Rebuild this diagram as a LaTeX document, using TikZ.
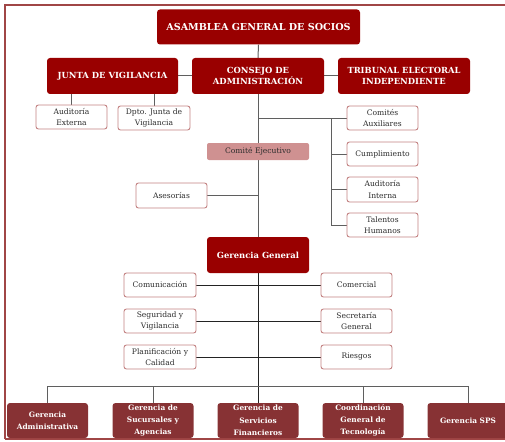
\documentclass[tikz,border=0pt]{standalone}
\usepackage{fontspec}
\setmainfont{DejaVu Serif}
\usetikzlibrary{backgrounds}
\begin{document}
\begin{tikzpicture}[x=1pt,y=-1pt,
  top/.style={draw=none,fill=topred,rounded corners=3pt,text=white,font=\bfseries\fontsize{8.4}{11}\selectfont,align=center,inner sep=0pt,minimum width=132pt,minimum height=36pt},
  sub/.style={draw=subline,line width=0.9pt,fill=white,rounded corners=2.5pt,text=txt,font=\fontsize{7.6}{11.5}\selectfont,align=center,inner sep=0pt,minimum width=71pt,minimum height=24pt},
  bot/.style={draw=none,fill=botred,rounded corners=3pt,text=white,font=\bfseries\fontsize{7.4}{12.3}\selectfont,align=center,inner sep=0pt,minimum width=81pt,minimum height=35pt},
  ln/.style={draw=lngray,line width=1pt},
  lnd/.style={draw=lndark,line width=1pt}]
\definecolor{topred}{RGB}{153,0,0}
\definecolor{botred}{RGB}{135,50,52}
\definecolor{subline}{RGB}{195,130,130}
\definecolor{txt}{RGB}{45,45,45}
\definecolor{lngray}{RGB}{95,95,95}
\definecolor{lndark}{RGB}{35,35,35}
\definecolor{frame}{RGB}{160,70,70}
\definecolor{ejec}{RGB}{207,145,145}
\useasboundingbox (0,0) rectangle (505,441);
\clip (0,0) rectangle (505,441);
\draw[frame,line width=1.8pt] (5,439) -- (5,5) -- (512,5);
\draw[frame,line width=1.8pt] (5,439) -- (512,439);

% top level
\node[top,minimum width=203pt,minimum height=35pt,font=\bfseries\fontsize{9.6}{12}\selectfont] (asam) at (258.5,27) {ASAMBLEA GENERAL DE SOCIOS};
\node[top,minimum width=131pt] (junta) at (112.5,76) {JUNTA DE VIGILANCIA};
\node[top] (cons) at (258,76) {CONSEJO DE\\ADMINISTRACIÓN};
\node[top,minimum width=132pt] (trib) at (404,76) {TRIBUNAL ELECTORAL\\INDEPENDIENTE};

\node[sub] (audext) at (71.5,117) {Auditoría\\Externa};
\node[sub,minimum width=72pt] (dpto) at (154,118) {Dpto. Junta de\\Vigilancia};

\node[sub] (comites) at (382.5,118) {Comités\\Auxiliares};
\node[sub] (cumpl) at (382.5,154) {Cumplimiento};
\node[sub,minimum height=25pt] (audint) at (382.5,189.5) {Auditoría\\Interna};
\node[sub] (talent) at (382.5,225) {Talentos\\Humanos};

\node[draw=none,fill=ejec,rounded corners=2pt,text=txt,font=\fontsize{7.6}{10}\selectfont,inner sep=0pt,minimum width=102pt,minimum height=17pt] (ejecutivo) at (258,151.5) {Comité Ejecutivo};
\node[sub,minimum height=25pt] (ases) at (171.5,195.5) {Asesorías};

\node[top,minimum width=102pt,font=\bfseries\fontsize{8.4}{12}\selectfont] (gg) at (258,255) {Gerencia General};

\node[sub,minimum width=72pt] (comun) at (160,285) {Comunicación};
\node[sub] (comer) at (356.5,285) {Comercial};
\node[sub,minimum width=72pt] (segur) at (160,321) {Seguridad y\\Vigilancia};
\node[sub] (secre) at (356.5,321) {Secretaría\\General};
\node[sub,minimum width=72pt] (plan) at (160,357) {Planificación y\\Calidad};
\node[sub] (ries) at (356.5,357) {Riesgos};

\node[bot] (gadm) at (47.5,420.5) {Gerencia\\Administrativa};
\node[bot] (gsuc) at (153,420.5) {Gerencia de\\Sucursales y\\Agencias};
\node[bot] (gserv) at (258,420.5) {Gerencia de\\Servicios\\Financieros};
\node[bot] (gcoord) at (363,420.5) {Coordinación\\General de\\Tecnología};
\node[bot] (gsps) at (468,420.5) {Gerencia SPS};

\begin{scope}[on background layer]
% connectors upper
\draw[ln] (asam.south) -- (cons.north);
\draw[ln] (junta.east) -- (cons.west);
\draw[ln] (cons.east) -- (trib.west);
\draw[ln] (audext.north |- junta.south) -- (audext.north);
\draw[ln] (dpto.north |- junta.south) -- (dpto.north);
\coordinate (cj) at (cons.south |- comites.west);
\coordinate (rb) at (331,118);
\draw[ln] (cj) -- (comites.west);
\draw[ln] (rb) -- (rb |- talent.west) -- (talent.west);
\draw[ln] (rb |- cumpl.west) -- (cumpl.west);
\draw[ln] (rb |- audint.west) -- (audint.west);
\draw[ln] (ases.east) -- (ases.east -| cons.south);
\draw[ln] (cons.south) -- (gg.north);

% connectors lower
\coordinate (bus) at (258,386);
\draw[lnd] (gg.south) -- (gserv.north);
\draw[lnd] (comun.east) -- (comer.west);
\draw[lnd] (segur.east) -- (secre.west);
\draw[lnd] (plan.east) -- (ries.west);
\draw[ln] (gadm.north) -- (gadm.north |- bus) -- (gsps.north |- bus) -- (gsps.north);
\draw[ln] (gsuc.north |- bus) -- (gsuc.north);
\draw[ln] (gcoord.north |- bus) -- (gcoord.north);
\end{scope}
\end{tikzpicture}
\end{document}
